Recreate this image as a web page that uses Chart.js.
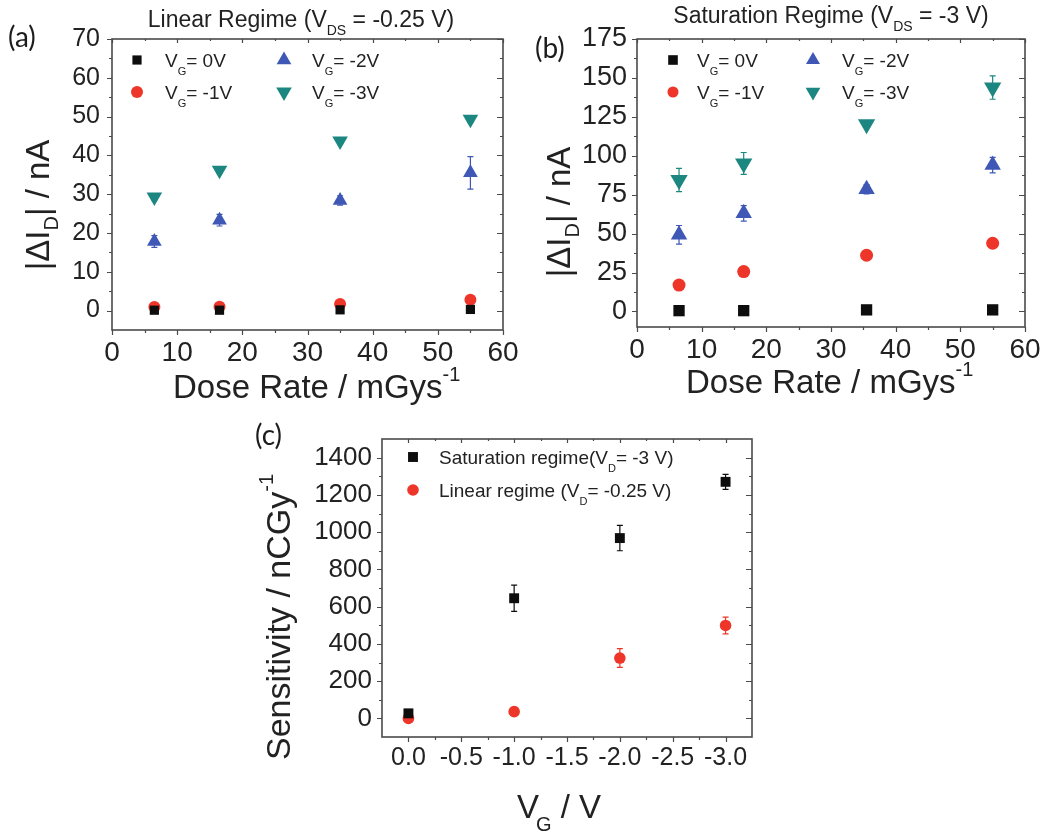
<!DOCTYPE html>
<html>
<head>
<meta charset="utf-8">
<title>Radiation dose-rate response of the transistor</title>
<script src="https://cdn.jsdelivr.net/npm/chart.js@4.4.1/dist/chart.umd.min.js"></script>
<style>
  html, body { margin: 0; padding: 0; background: #ffffff; }
  #figure { position: relative; width: 1054px; height: 834px; overflow: hidden; background: #ffffff; }
  #figure canvas { position: absolute; }
</style>
</head>
<body>
<div id="figure">
  <canvas id="panelA" width="527" height="410" style="left:0px;top:0px;width:527px;height:410px"></canvas>
  <canvas id="panelB" width="527" height="410" style="left:527px;top:0px;width:527px;height:410px"></canvas>
  <canvas id="panelC" width="560" height="424" style="left:240px;top:410px;width:560px;height:424px"></canvas>
</div>
<script>
// ---------- data ----------
// (a) linear regime, V_DS = -0.25 V : |ΔI_D| (nA) vs dose rate (mGy/s)
const doseRateA = [6.5, 16.5, 35, 55];
const linVg0    = [0.1, 0.1, 0.2, 0.3];
const linVg1    = [0.9, 1.0, 1.7, 2.8];
const linVg2    = [17.8, 23.3, 28.4, 35.5];
const linVg3    = [29.3, 36.2, 43.7, 49.3];
const linVg0Err = [0.2, 0.2, 0.2, 0.2];
const linVg1Err = [0.3, 0.3, 0.4, 0.5];
const linVg2Err = [1.5, 1.5, 1.2, 4.2];
const linVg3Err = [0.8, 0.8, 0.8, 0.8];

// (b) saturation regime, V_DS = -3 V
const doseRateB = [6.5, 16.5, 35.5, 55];
const satVg0    = [0.5, 0.5, 1.0, 1.0];
const satVg1    = [16.9, 25.6, 36.1, 43.8];
const satVg2    = [49.2, 63.0, 78.5, 94.0];
const satVg3    = [84.4, 95.1, 120.3, 143.8];
const satVg0Err = [0.5, 0.5, 0.5, 0.5];
const satVg1Err = [1.0, 1.0, 1.0, 1.0];
const satVg2Err = [6.0, 5.0, 3.0, 5.0];
const satVg3Err = [7.5, 7.0, 1.0, 7.5];

// (c) sensitivity (nC/Gy) vs gate voltage
const gateVoltage  = [0, -1, -2, -3];
const sensSat      = [27, 645, 968, 1270];
const sensSatErr   = [15, 70, 68, 40];
const sensLin      = [0, 36, 324, 499];
const sensLinErr   = [5, 8, 50, 45];

// tick labels
const doseTicks = [0, 10, 20, 30, 40, 50, 60];
const linTicks  = [0, 10, 20, 30, 40, 50, 60, 70];
const satTicks  = [0, 25, 50, 75, 100, 125, 150, 175];
const gateTicks = [0, -0.5, -1.0, -1.5, -2.0, -2.5, -3.0];
const sensTicks = [0, 200, 400, 600, 800, 1000, 1200, 1400];

// ---------- styling ----------
const FONT  = '"Liberation Sans", Arial, sans-serif';
const LABEL_FONT = 'Lato, "Open Sans", sans-serif';
const INK   = '#222222';
const FRAME = '#4a4a4a';
const BLACK = '#0d0d0d';
const RED   = '#ee3529';
const BLUE  = '#3f57b5';
const TEAL  = '#1b8780';

// rich text: "_{..}" subscript, "^{..}" superscript
function parseRich(str) {
  const out = [];
  str.split(/(_\{[^}]*\}|\^\{[^}]*\})/).forEach(s => {
    if (!s) return;
    if (s.startsWith('_{')) out.push({ t: s.slice(2, -1), k: 'sub' });
    else if (s.startsWith('^{')) out.push({ t: s.slice(2, -1), k: 'sup' });
    else out.push({ t: s, k: 'n' });
  });
  return out;
}

function drawRich(ctx, str, x, y, o) {
  const size = o.size;
  const subSize = o.subSize || Math.round(size * 0.62);
  const subShift = o.subShift != null ? o.subShift : size * 0.38;
  const supShift = o.supShift != null ? o.supShift : -size * 0.55;
  const subDx = o.subDx || 0;
  const parts = parseRich(str);
  ctx.save();
  ctx.translate(x, y);
  if (o.rotate) ctx.rotate(o.rotate);
  ctx.textAlign = 'left';
  ctx.textBaseline = 'alphabetic';
  ctx.fillStyle = o.color || INK;
  const fontOf = p => (p.k === 'n' ? size : subSize) + 'px ' + (o.family || FONT);
  const widths = parts.map(p => { ctx.font = fontOf(p); return ctx.measureText(p.t).width + (p.k === 'sub' ? subDx : 0); });
  const total = widths.reduce((s, w) => s + w, 0);
  let cx = o.align === 'center' ? -total / 2 : 0;
  parts.forEach((p, i) => {
    ctx.font = fontOf(p);
    const dy = p.k === 'sub' ? subShift : p.k === 'sup' ? supShift : 0;
    ctx.fillText(p.t, cx + (p.k === 'sub' ? subDx : 0), dy);
    cx += widths[i];
  });
  ctx.restore();
}

function minorOf(vals, lo, hi) {
  const step = vals[1] - vals[0];
  const res = [];
  for (let i = 0; i < vals.length - 1; i++) res.push((vals[i] + vals[i + 1]) / 2);
  const a = Math.min(lo, hi), b = Math.max(lo, hi), eps = Math.abs(step) * 0.01;
  [vals[0] - step / 2, vals[vals.length - 1] + step / 2].forEach(v => {
    if (v > a + eps && v < b - eps) res.push(v);
  });
  return res;
}

// frame, tick marks on all four sides, error bars, legend and annotations
const decoPlugin = {
  id: 'deco',
  beforeDatasetsDraw(chart) {
    const { ctx, chartArea: a, scales: { x, y } } = chart;
    ctx.save();
    ctx.strokeStyle = FRAME;
    ctx.lineWidth = 1.2;
    ctx.beginPath();
    const majX = x.ticks.map(t => t.value), majY = y.ticks.map(t => t.value);
    const minX = minorOf(majX, x.min, x.max), minY = minorOf(majY, y.min, y.max);
    const xt = (vals, outLen, inLen) => vals.forEach(v => {
      const px = Math.round(x.getPixelForValue(v)) + 0.5;
      ctx.moveTo(px, a.bottom); ctx.lineTo(px, a.bottom + outLen);
      ctx.moveTo(px, a.top); ctx.lineTo(px, a.top + inLen);
    });
    const yt = (vals, outLen, inLen) => vals.forEach(v => {
      const py = Math.round(y.getPixelForValue(v)) + 0.5;
      ctx.moveTo(a.left, py); ctx.lineTo(a.left - outLen, py);
      ctx.moveTo(a.right, py); ctx.lineTo(a.right - inLen, py);
    });
    xt(majX, 5, 4); xt(minX, 3, 2);
    yt(majY, 5, 6); yt(minY, 3, 3);
    ctx.stroke();
    ctx.lineWidth = 1.6;
    ctx.strokeRect(a.left, a.top, a.right - a.left, a.bottom - a.top);

    // vertical error bars
    chart.data.datasets.forEach(ds => {
      if (!ds.yErr) return;
      ctx.strokeStyle = ds.borderColor;
      ctx.lineWidth = 1.2;
      ds.data.forEach((p, j) => {
        const e = ds.yErr[j];
        if (!e) return;
        const px = x.getPixelForValue(p.x);
        const hi = y.getPixelForValue(p.y + e), lo = y.getPixelForValue(p.y - e);
        ctx.beginPath();
        ctx.moveTo(px, hi); ctx.lineTo(px, lo);
        ctx.moveTo(px - 3, hi); ctx.lineTo(px + 3, hi);
        ctx.moveTo(px - 3, lo); ctx.lineTo(px + 3, lo);
        ctx.stroke();
      });
    });
    ctx.restore();
  },
  afterDraw(chart, args, o) {
    const ctx = chart.ctx;
    if (o.label) drawRich(ctx, o.label.text, o.label.x, o.label.y, { size: o.label.size, family: LABEL_FONT, color: '#1c1c1c' });
    if (o.title) drawRich(ctx, o.title.text, o.title.x, o.title.y, { size: o.title.size, align: 'center', subSize: o.title.subSize, subShift: o.title.subShift });
    if (o.xTitle) drawRich(ctx, o.xTitle.text, o.xTitle.x, o.xTitle.y, o.xTitle);
    if (o.yTitle) drawRich(ctx, o.yTitle.text, o.yTitle.x, o.yTitle.y, Object.assign({ rotate: -Math.PI / 2, align: 'center' }, o.yTitle));
    if (o.legend) {
      const L = o.legend;
      chart.data.datasets.forEach((ds, i) => {
        const it = L.items[i];
        if (!it) return;
        ctx.save();
        ctx.fillStyle = ds.backgroundColor;
        ctx.strokeStyle = ds.borderColor;
        Chart.helpers.drawPoint(ctx, {
          pointStyle: ds.pointStyle, rotation: ds.pointRotation || 0,
          radius: ds.pointRadius * (L.markerScale || 1), borderWidth: 0
        }, it.x, it.y);
        ctx.restore();
        drawRich(ctx, ds.label, it.tx, it.y + L.size * 0.36, { size: L.size, subSize: L.subSize, subShift: L.subShift });
      });
    }
  }
};

function series(label, xs, ys, errs, color, style, radius, rotation) {
  return {
    label, yErr: errs,
    data: xs.map((xv, i) => ({ x: xv, y: ys[i] })),
    backgroundColor: color, borderColor: color,
    pointStyle: style, pointRadius: radius, pointRotation: rotation || 0,
    pointBorderWidth: 0, showLine: false
  };
}

function axis(min, max, ticks, size, padding, fit, fmt, extra) {
  return Object.assign({
    type: 'linear', min, max,
    afterBuildTicks: s => { s.ticks = ticks.map(v => ({ value: v })); },
    afterFit: fit,
    grid: { display: false, drawTicks: false, tickLength: 0 },
    border: { display: false },
    ticks: {
      font: { family: FONT, size }, color: INK, padding,
      autoSkip: false, maxRotation: 0, minRotation: 0,
      callback: fmt || (v => String(v))
    }
  }, extra || {});
}

function makeChart(id, datasets, scales, padding, deco) {
  return new Chart(document.getElementById(id), {
    type: 'scatter',
    data: { datasets },
    options: {
      responsive: false, animation: false, devicePixelRatio: 1, events: [],
      layout: { padding },
      scales,
      plugins: { legend: { display: false }, tooltip: { enabled: false }, deco }
    },
    plugins: [decoPlugin]
  });
}

// ---------- (a) linear regime ----------
makeChart('panelA', [
  series('V_{G}= 0V',  doseRateA, linVg0, linVg0Err, BLACK, 'rect', 6.5),
  series('V_{G}= -1V', doseRateA, linVg1, linVg1Err, RED, 'circle', 6),
  series('V_{G}= -2V', doseRateA, linVg2, linVg2Err, BLUE, 'triangle', 8.5),
  series('V_{G}= -3V', doseRateA, linVg3, linVg3Err, TEAL, 'triangle', 9, 180)
], {
  x: axis(0, 60, doseTicks, 28, 6, s => { s.height = 80; }),
  y: axis(-5, 70, linTicks, 25, 12, s => { s.width = 112; })
}, { left: 0, top: 39, right: 24, bottom: 0 }, {
  label:  { text: '(a)', x: 8, y: 47, size: 28 },
  title:  { text: 'Linear Regime (V_{DS} = -0.25 V)', x: 301, y: 27, size: 23, subSize: 14, subShift: 8 },
  xTitle: { text: 'Dose Rate / mGys^{-1}', x: 173, y: 398, size: 33, subSize: 20, supShift: -17 },
  yTitle: { text: '|ΔI_{D}| / nA', x: 49, y: 205, size: 33, subSize: 20, subShift: 9 },
  legend: {
    size: 19, subSize: 11, subShift: 8,
    items: [{ x: 137, y: 60, tx: 165 }, { x: 137, y: 92, tx: 165 }, { x: 284, y: 60, tx: 312 }, { x: 284, y: 92, tx: 312 }]
  }
});

// ---------- (b) saturation regime ----------
makeChart('panelB', [
  series('V_{G}= 0V',  doseRateB, satVg0, satVg0Err, BLACK, 'rect', 8),
  series('V_{G}= -1V', doseRateB, satVg1, satVg1Err, RED, 'circle', 6.5),
  series('V_{G}= -2V', doseRateB, satVg2, satVg2Err, BLUE, 'triangle', 9.5),
  series('V_{G}= -3V', doseRateB, satVg3, satVg3Err, TEAL, 'triangle', 10, 180)
], {
  x: axis(0, 60, doseTicks, 28, 6, s => { s.height = 83; }),
  y: axis(-10, 175, satTicks, 27, 10, s => { s.width = 110; })
}, { left: 0, top: 39, right: 29, bottom: 0 }, {
  label:  { text: '(b)', x: 8, y: 58, size: 28 },
  title:  { text: 'Saturation Regime (V_{DS} = -3 V)', x: 304, y: 23, size: 23, subSize: 14, subShift: 8 },
  xTitle: { text: 'Dose Rate / mGys^{-1}', x: 159, y: 393, size: 33, subSize: 20, supShift: -17 },
  yTitle: { text: '|ΔI_{D}| / nA', x: 43, y: 212, size: 33, subSize: 20, subShift: 9 },
  legend: {
    size: 19, subSize: 11, subShift: 8, markerScale: 0.85,
    items: [{ x: 146, y: 60, tx: 170 }, { x: 146, y: 92, tx: 170 }, { x: 286, y: 60, tx: 315 }, { x: 286, y: 92, tx: 315 }]
  }
});

// ---------- (c) sensitivity vs gate voltage ----------
makeChart('panelC', [
  series('Saturation regime(V_{D}= -3 V)', gateVoltage, sensSat, sensSatErr, BLACK, 'rect', 7),
  series('Linear regime (V_{D}= -0.25 V)', gateVoltage, sensLin, sensLinErr, RED, 'circle', 5.8)
], {
  x: axis(-3.25, 0.25, gateTicks, 25, 6, s => { s.height = 97; }, v => v.toFixed(1), { reverse: true }),
  y: axis(-100, 1500, sensTicks, 26, 10, s => { s.width = 142; })
}, { left: 0, top: 29, right: 48, bottom: 0 }, {
  label:  { text: '(c)', x: 15, y: 35, size: 28 },
  xTitle: { text: 'V_{G} / V', x: 277, y: 408, size: 33, subSize: 20, subShift: 13, subDx: -3 },
  yTitle: { text: 'Sensitivity / nCGy^{-1}', x: 50, y: 207, size: 34, subSize: 20, supShift: -17 },
  legend: {
    size: 19, subSize: 11, subShift: 8,
    items: [{ x: 173, y: 47, tx: 199 }, { x: 173, y: 80, tx: 199 }]
  }
});
</script>
</body>
</html>
